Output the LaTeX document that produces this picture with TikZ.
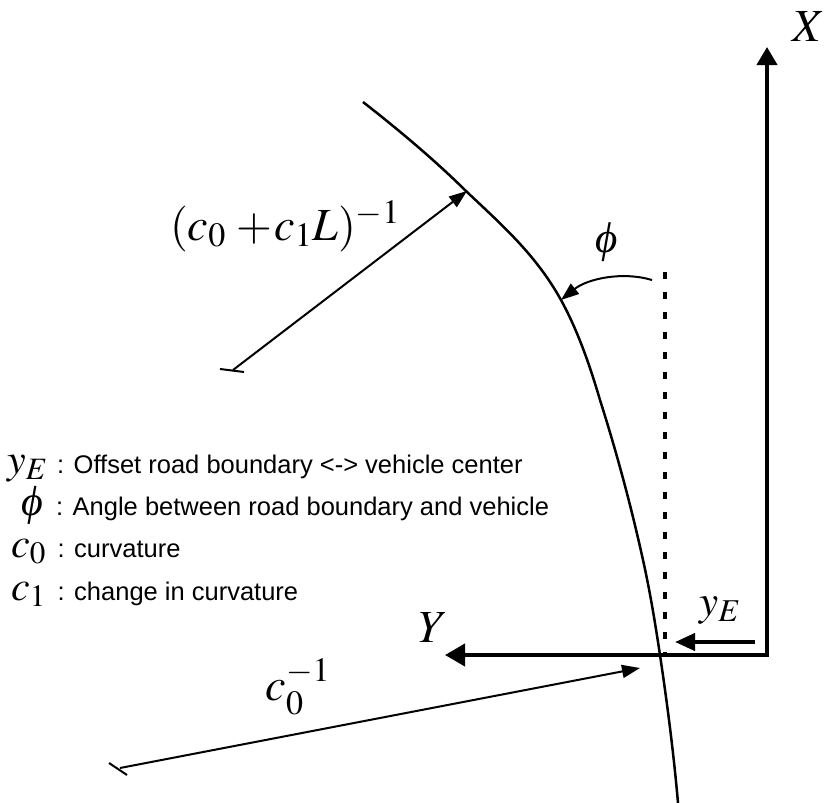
\documentclass[tikz,border=0pt]{standalone}
\usepackage{mathptmx}
\usepackage[no-math]{fontspec}
\setmainfont{Liberation Sans}
\newfontfamily\phifont{Liberation Serif}
\usetikzlibrary{arrows.meta}
\newcommand{\myphi}{{\phifont\itshape ϕ}}
\tikzset{
  axisline/.style={line width=4pt, line join=miter},
  dimline/.style={line width=2pt, -{Triangle[length=18pt,width=13pt]}},
  roadline/.style={line width=2.5pt},
  tickline/.style={line width=2pt},
  biglbl/.style={inner sep=0pt, font=\fontsize{46}{50}\selectfont},
  midlbl/.style={inner sep=0pt, font=\fontsize{43}{46}\selectfont},
  legsym/.style={inner sep=0pt, font=\fontsize{42}{46}\selectfont},
  legtxt/.style={inner sep=0pt, anchor=base west, font=\fontsize{25.5}{28}\selectfont},
}
\begin{document}
\begin{tikzpicture}[x=1pt,y=-1pt]
\useasboundingbox (0,0) rectangle (828,803);
% coordinates
\coordinate (O) at (767,655);
\coordinate (Xtip) at (767,47);
\coordinate (Ytip) at (445,655);
\coordinate (yEs) at (755,642);
\coordinate (yEt) at (675,642);
\coordinate (dT) at (665,272);
\coordinate (dB) at (665,655);
\coordinate (phS) at (652,280);
\coordinate (phT) at (561,300);
\coordinate (r1s) at (233,370);
\coordinate (r1t) at (467,191);
\coordinate (r0s) at (120,768);
\coordinate (r0t) at (640,668);
% axes
\draw[axisline, {Triangle[length=18pt,width=20pt]}-{Triangle[length=20pt,width=22pt]}] (Xtip) -- (O) -- (Ytip);
% y_E arrow
\draw[line width=4pt, -{Triangle[length=20pt,width=17pt]}] (yEs) -- (yEt);
% dashed vehicle line
\draw[line width=3.5pt, dash pattern=on 7pt off 13pt] (dT) -- (dB);
% road boundary
\draw[roadline] (363,102) .. controls (399.1,130.2) and (434.4,159.8) .. (467,192)
  .. controls (503,226) and (536,255) .. (561,300)
  .. controls (578,331) and (590,366) .. (600,400)
  .. controls (616.7,452.6) and (631.1,506.1) .. (643,560)
  .. controls (650,591.4) and (655.2,623.2) .. (660,655)
  .. controls (667.3,704.2) and (673.7,753.5) .. (678,803);
% phi arrow
\draw[line width=2pt, -{Triangle[length=18pt,width=13pt]}] (phS) .. controls (622,271) and (587,279) .. (phT);
% radius arrows
\draw[dimline] (r1s) -- (r1t);
\draw[tickline] (220,369) -- (244,372);
\draw[dimline] (r0s) -- (r0t);
\draw[tickline] (109,763) -- (127,775);
% labels
\node[biglbl] (Xl) at (809,27) {$X$};
\node[biglbl] (Yl) at (433,628) {$Y$};
\node[midlbl, anchor=base] (yEl) at (720,615) {$y_E$};
\node[midlbl] (phl) at (607,242) {\myphi};
\node[biglbl, anchor=base] (r1l) at (285,240) {$(c_0\mskip4mu{+}\mskip1mu c_1L)^{-1}$};
\node[biglbl, anchor=base] (r0l) at (298,700) {$c_0^{-1}$};
% legend
\node[legsym, anchor=base west] (s1) at (7,473) {$y_E$};
\node[legtxt] (t1) at (57,473) {: Offset road boundary <-> vehicle center};
\node[legsym, anchor=base] (s2) at (32,515) {\myphi};
\node[legtxt] (t2) at (56,515) {: Angle between road boundary and vehicle};
\node[legsym, anchor=base west] (s3) at (11,557) {$c_0$};
\node[legtxt] (t3) at (57.5,557) {: curvature};
\node[legsym, anchor=base west] (s4) at (11,600) {$c_1$};
\node[legtxt] (t4) at (57.5,600) {: change in curvature};
\end{tikzpicture}
\end{document}
